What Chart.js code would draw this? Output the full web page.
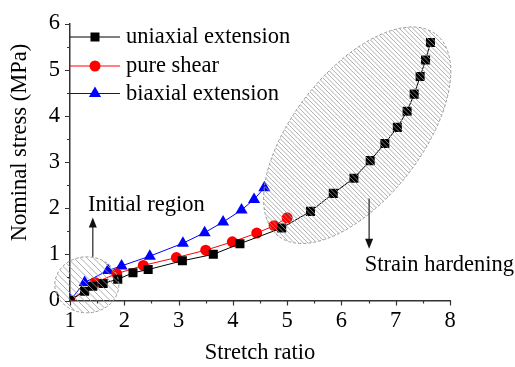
<!DOCTYPE html>
<html>
<head>
<meta charset="utf-8">
<script src="https://cdn.jsdelivr.net/npm/chart.js@4/dist/chart.umd.min.js"></script>
<style>
  html, body { margin: 0; padding: 0; background: #fff; }
</style>
</head>
<body>
<canvas id="myChart" width="515" height="367"></canvas>
<script>
// stretch ratio / nominal stress (MPa) for each loading mode
const uniaxialX = [1, 1.27, 1.42, 1.61, 1.88, 2.16, 2.44, 3.07, 3.64, 4.13, 4.90, 5.43, 5.85, 6.23, 6.53, 6.80, 7.03, 7.21, 7.34, 7.45, 7.55, 7.64];
const uniaxialY = [0, 0.20, 0.31, 0.37, 0.46, 0.60, 0.67, 0.86, 1.00, 1.23, 1.57, 1.93, 2.32, 2.65, 3.03, 3.40, 3.75, 4.10, 4.47, 4.85, 5.21, 5.59];

const shearX = [1, 1.46, 1.86, 2.35, 2.96, 3.50, 3.99, 4.44, 4.76, 5.00];
const shearY = [0, 0.39, 0.58, 0.76, 0.93, 1.09, 1.27, 1.46, 1.62, 1.79];

const biaxialX = [1, 1.27, 1.70, 1.95, 2.47, 3.08, 3.48, 3.82, 4.16, 4.39, 4.58];
const biaxialY = [0, 0.39, 0.65, 0.75, 0.96, 1.24, 1.47, 1.70, 1.96, 2.19, 2.44];

const seriesNames = ["uniaxial extension", "pure shear", "biaxial extension"];
const xTicks = [1, 2, 3, 4, 5, 6, 7, 8];
const yTicks = [0, 1, 2, 3, 4, 5, 6];

const FONT = '"Liberation Serif", "Times New Roman", serif';
const FSIZE = 22.5;
const AXIS = '#333';

function pts(xs, ys) {
  return xs.map((x, i) => ({ x: x, y: ys[i] }));
}

function hatchEllipse(ctx, cx, cy, rx, ry, rot, gap) {
  ctx.save();
  ctx.beginPath();
  ctx.ellipse(cx, cy, rx, ry, rot, 0, Math.PI * 2);
  ctx.save();
  ctx.clip();
  const r = Math.max(rx, ry);
  ctx.strokeStyle = '#999';
  ctx.lineWidth = 0.8;
  ctx.beginPath();
  for (let d = -2 * r; d <= 2 * r; d += gap) {
    ctx.moveTo(cx + d - r, cy - r);
    ctx.lineTo(cx + d + r, cy + r);
  }
  ctx.stroke();
  ctx.restore();
  ctx.setLineDash([3, 2]);
  ctx.strokeStyle = '#999';
  ctx.lineWidth = 1;
  ctx.beginPath();
  ctx.ellipse(cx, cy, rx, ry, rot, 0, Math.PI * 2);
  ctx.stroke();
  ctx.restore();
}

function vArrow(ctx, x, yFrom, yTo) {
  const dir = yTo < yFrom ? -1 : 1;
  ctx.save();
  ctx.strokeStyle = AXIS;
  ctx.fillStyle = '#111';
  ctx.lineWidth = 1.3;
  ctx.beginPath();
  ctx.moveTo(x, yFrom);
  ctx.lineTo(x, yTo - dir * 8);
  ctx.stroke();
  ctx.beginPath();
  ctx.moveTo(x, yTo);
  ctx.lineTo(x - 4, yTo - dir * 10);
  ctx.lineTo(x + 4, yTo - dir * 10);
  ctx.closePath();
  ctx.fill();
  ctx.restore();
}

function marker(ctx, style, x, y, color) {
  ctx.fillStyle = color;
  ctx.beginPath();
  if (style === 'rect') {
    ctx.rect(x - 4.5, y - 4.5, 9, 9);
  } else if (style === 'circle') {
    ctx.arc(x, y, 5.5, 0, Math.PI * 2);
  } else {
    ctx.moveTo(x, y - 7);
    ctx.lineTo(x + 6.1, y + 3.5);
    ctx.lineTo(x - 6.1, y + 3.5);
    ctx.closePath();
  }
  ctx.fill();
}

// outward major/minor ticks on both axes, plus the y title
const tickMarks = {
  id: 'tickMarks',
  afterDraw(chart) {
    const ctx = chart.ctx, xs = chart.scales.x, ys = chart.scales.y;
    const area = chart.chartArea;
    ctx.save();
    ctx.strokeStyle = AXIS;
    ctx.lineWidth = 1.2;
    ctx.beginPath();
    for (let v = xs.min; v <= xs.max + 1e-9; v += 0.5) {
      const p = Math.round(xs.getPixelForValue(v)) + 0.5;
      ctx.moveTo(p, area.bottom);
      ctx.lineTo(p, area.bottom + (Number.isInteger(v) ? 5 : 3));
    }
    for (let v = ys.min; v <= ys.max + 1e-9; v += 0.5) {
      const p = Math.round(ys.getPixelForValue(v)) + 0.5;
      ctx.moveTo(area.left, p);
      ctx.lineTo(area.left - (Number.isInteger(v) ? 5 : 3), p);
    }
    ctx.stroke();

    ctx.translate(20.5, area.top + 119);
    ctx.rotate(-Math.PI / 2);
    ctx.font = FSIZE + 'px ' + FONT;
    ctx.fillStyle = '#000';
    ctx.textAlign = 'center';
    ctx.textBaseline = 'middle';
    ctx.fillText('Nominal stress (MPa)', 0, 0);
    ctx.restore();
  }
};

// hatched regions, arrows, labels and the inset legend
const notes = {
  id: 'notes',
  afterDatasetsDraw(chart) {
    const ctx = chart.ctx, xs = chart.scales.x, ys = chart.scales.y;
    const px = v => xs.getPixelForValue(v), py = v => ys.getPixelForValue(v);
    const area = chart.chartArea;

    hatchEllipse(ctx, px(1.31), py(0.34), 32, 28, 0, 6.5);
    hatchEllipse(ctx, px(6.29), py(3.58), 128, 64, -0.907, 4.5);

    vArrow(ctx, px(1.42), py(0.95), py(1.8));
    vArrow(ctx, px(6.51), py(2.21), py(1.12));

    ctx.save();
    ctx.font = FSIZE + 'px ' + FONT;
    ctx.fillStyle = '#000';
    ctx.textBaseline = 'alphabetic';
    ctx.fillText('Initial region', px(1.33), py(1.94));
    ctx.fillText('Strain hardening', px(6.43), py(0.64));

    // legend
    const rows = [13.5, 42.5, 70];
    chart.data.datasets.forEach((ds, i) => {
      const y = area.top + rows[i];
      ctx.strokeStyle = ds.borderColor;
      ctx.lineWidth = 1;
      ctx.beginPath();
      ctx.moveTo(area.left, y);
      ctx.lineTo(area.left + 50, y);
      ctx.stroke();
      marker(ctx, ds.pointStyle, area.left + 25, y, ds.borderColor);
      ctx.fillStyle = '#000';
      ctx.textBaseline = 'middle';
      ctx.fillText(ds.label, area.left + 56, y + 0.5);
    });
    ctx.restore();
  }
};

new Chart(document.getElementById("myChart"), {
  type: 'line',
  data: {
    datasets: [
      {
        label: seriesNames[0],
        data: pts(uniaxialX, uniaxialY),
        borderColor: '#000',
        backgroundColor: '#000',
        pointStyle: 'rect',
        pointRadius: 6.4,
        pointBorderWidth: 0,
        borderWidth: 1
      },
      {
        label: seriesNames[1],
        data: pts(shearX, shearY),
        borderColor: '#ff0000',
        backgroundColor: '#ff0000',
        pointStyle: 'circle',
        pointRadius: 5.5,
        pointBorderWidth: 0,
        borderWidth: 1
      },
      {
        label: seriesNames[2],
        data: pts(biaxialX, biaxialY),
        borderColor: '#0000ff',
        backgroundColor: '#0000ff',
        pointStyle: 'triangle',
        pointRadius: 7,
        pointBorderWidth: 0,
        borderWidth: 1
      }
    ]
  },
  options: {
    responsive: false,
    animation: false,
    layout: { padding: { left: 0, top: 14, right: 65, bottom: 0 } },
    scales: {
      x: {
        type: 'linear',
        min: 1,
        max: 8,
        afterBuildTicks: s => { s.ticks = xTicks.map(v => ({ value: v })); },
        afterFit: s => { s.height = 66.5; },
        ticks: { color: '#000', font: { family: FONT, size: FSIZE }, padding: 7, maxRotation: 0 },
        grid: { display: false, drawTicks: false },
        border: { color: AXIS, width: 1.5 },
        title: { display: true, text: 'Stretch ratio', color: '#000', font: { family: FONT, size: FSIZE }, padding: { top: 0, bottom: 0.5 } }
      },
      y: {
        min: 0,
        max: 6,
        afterBuildTicks: s => { s.ticks = yTicks.map(v => ({ value: v })); },
        afterFit: s => { s.width = 70; },
        ticks: { color: '#000', font: { family: FONT, size: FSIZE }, padding: 10 },
        grid: { display: false, drawTicks: false },
        border: { color: AXIS, width: 1.5 },
        title: { display: false }
      }
    },
    plugins: {
      legend: { display: false },
      tooltip: { enabled: false }
    }
  },
  plugins: [tickMarks, notes]
});
</script>
</body>
</html>
